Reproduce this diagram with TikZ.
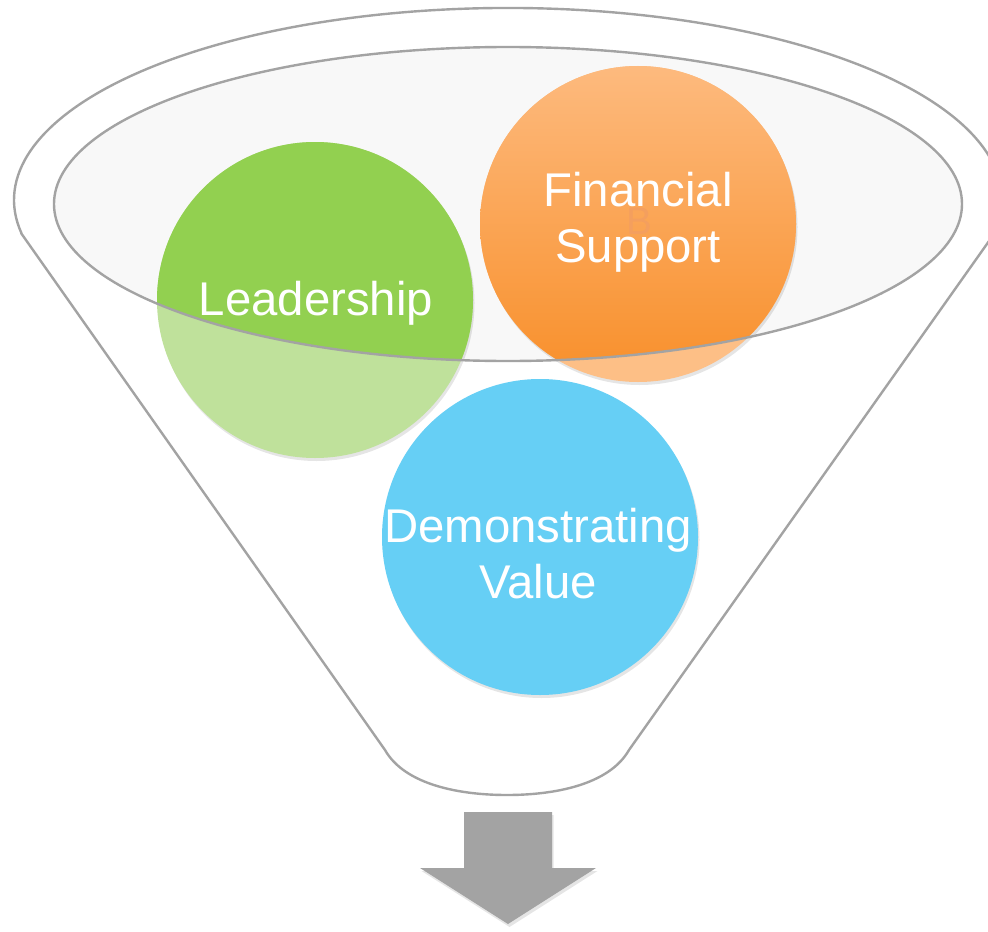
\documentclass[tikz,border=0pt]{standalone}
\usepackage{fontspec}
\setmainfont{Liberation Sans}
\definecolor{rim}{HTML}{A3A3A3}
\definecolor{bowl}{HTML}{F8F8F8}
\definecolor{leadfull}{HTML}{92D050}
\definecolor{leadpale}{HTML}{BFE19B}
\definecolor{fintop}{HTML}{FDBA7E}
\definecolor{finbot}{HTML}{F88F2A}
\definecolor{finpale}{HTML}{FDBF86}
\definecolor{demofill}{HTML}{66CFF5}
\definecolor{ghost}{HTML}{F49F5E}

\begin{document}
\begin{tikzpicture}[x=0.75pt,y=0.75pt]
  \def\r{158}

\tikzstyle{rimline}=[draw=rim,line width=1.8pt,line join=round]
\tikzstyle{caption}=[text=white,align=center,inner sep=0pt,font=\fontsize{35.5}{42}\selectfont]
\tikzstyle{shadowed}=[black,opacity=0.10]
\useasboundingbox (0,0) rectangle (988,-931);
\coordinate (c-lead) at (315,-300);
\coordinate (c-fin) at (638,-224);
\coordinate (c-demo) at (540,-537);
% funnel body
\draw[rimline,fill=white] (21,-233) -- (385,-750)
  .. controls (405,-785) and (460,-795) .. (507,-795)
  .. controls (554,-795) and (609,-785) .. (629,-750)
  -- (994.5,-233.3) arc[start angle=-10,end angle=190,x radius=494,y radius=192] -- cycle;
\fill[bowl] (508,-204) ellipse[x radius=454,y radius=157];
% bubbles, pale outside the rim
\fill[shadowed] ([shift={(1.5,-3)}]c-lead) circle (\r);
\fill[shadowed] ([shift={(1.5,-3)}]c-fin) circle (\r);
\fill[shadowed] ([shift={(1.5,-3)}]c-demo) circle (\r);
\fill[leadpale] (c-lead) circle (\r);
\fill[finpale] (c-fin) circle (\r);
\fill[demofill] (c-demo) circle (\r);
\begin{scope}
  \clip (508,-204) ellipse[x radius=454,y radius=157];
  \fill[leadfull] (c-lead) circle (\r);
  \shade[top color=fintop,bottom color=finbot] (c-fin) circle (\r);
\end{scope}
\draw[rimline] (508,-204) ellipse[x radius=454,y radius=157];
% labels
\node[text=ghost,inner sep=0pt,font=\fontsize{29}{34}\selectfont] (ghost) at (639,-221) {B};
\node[caption] (lead) at (316,-302.8) {Leadership};
\node[caption] (fin) at (638,-222.7) {Financial\\Support};
\node[caption] (demo) at (538,-554) {Demonstrating\\Value};
% output arrow
\fill[shadowed] (465.5,-815) -- (553.5,-815) -- (553.5,-871) -- (597.5,-871) -- (509.5,-927) -- (421.5,-871) -- (465.5,-871) -- cycle;
\fill[rim] (464,-812) -- (552,-812) -- (552,-868) -- (596,-868) -- (508,-924) -- (420,-868) -- (464,-868) -- cycle;
\end{tikzpicture}
\end{document}
